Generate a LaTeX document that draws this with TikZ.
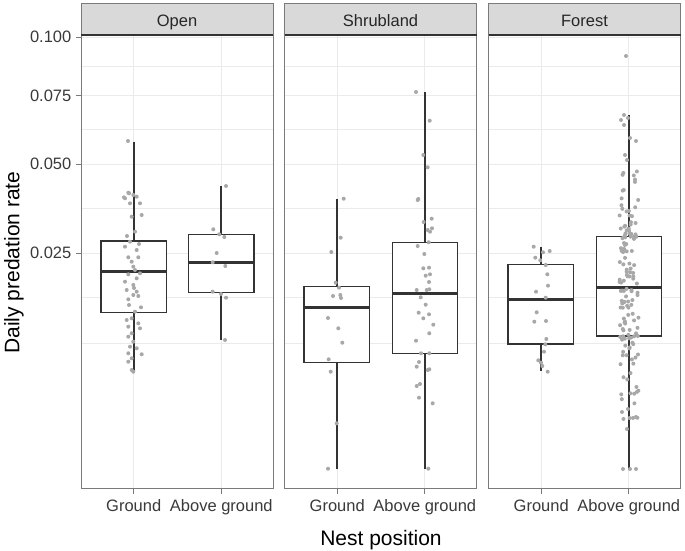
\documentclass[tikz,border=0pt]{standalone}
\usepackage{fontspec}
\setmainfont{Liberation Sans}
\usetikzlibrary{positioning}

\definecolor{stripfill}{HTML}{D9D9D9}
\definecolor{gridgray}{HTML}{EBEBEB}
\definecolor{framegray}{HTML}{7A7A7A}
\definecolor{boxgray}{HTML}{333333}
\definecolor{ptgray}{HTML}{A8A8A8}
\definecolor{tickgray}{HTML}{3A3A3A}

% one box: x, top whisker, upper hinge, median, lower hinge, bottom whisker
\newcommand{\nestbox}[6]{%
  \draw[whisk] (#1,#2) -- (#1,#3);
  \draw[whisk] (#1,#5) -- (#1,#6);
  \draw[boxln] (#1-32.7,#3) rectangle (#1+32.7,#5);
  \draw[medln] (#1-32.7,#4) -- (#1+32.7,#4);
}

\begin{document}
\begin{tikzpicture}[x=1pt, y=-1pt,
    grid/.style={gridgray, line width=0.9pt},
    frame/.style={framegray, line width=0.9pt},
    whisk/.style={boxgray, line width=1.8pt},
    boxln/.style={boxgray, line width=1.5pt, fill=white},
    medln/.style={boxgray, line width=3pt},
    pt/.style={ptgray},
    striptext/.style={anchor=base, text=black!85, font=\fontsize{16.5}{18}\selectfont},
    ticklab/.style={text=tickgray, font=\fontsize{16.5}{18}\selectfont},
    axtitle/.style={anchor=base, text=black, font=\fontsize{21}{24}\selectfont}
]
\useasboundingbox[fill=white] (0,0) rectangle (685,551);

\foreach \L/\lab in {81/Open, 284.5/Shrubland, 488.5/Forest}{
  \foreach \gy in {37.3,66.5,95.7,129.8,164,208.7,253.3,297.7,343.3}
    \draw[grid] (\L,\gy) -- (\L+192,\gy);
  \draw[grid] (\L+52.7,35) -- (\L+52.7,488.3);
  \draw[grid] (\L+140.3,35) -- (\L+140.3,488.3);
  \draw[frame] (\L,35) rectangle (\L+192,488.3);
  \draw[frame, fill=stripfill] (\L,3.3) rectangle (\L+192,35);
  \draw[boxgray, line width=1.4pt] (\L,35) -- (\L+192,35);
  \node[striptext] (strip\lab) at (\L+96,26.7) {\lab};
  \draw[frame] (\L+52.7,488.3) -- (\L+52.7,493.5);
  \draw[frame] (\L+140.3,488.3) -- (\L+140.3,493.5);
  \node[ticklab, anchor=base] (ground\lab) at (\L+52.7,511.7) {Ground};
  \node[ticklab, anchor=base] (above\lab) at (\L+140.3,511.7) {Above ground};
}

\foreach \v/\yy [count=\k] in {0.100/37.3, 0.075/95.7, 0.050/164, 0.025/253.3}{
  \draw[frame] (75.5,\yy) -- (81,\yy);
  \node[ticklab, anchor=east, inner sep=0pt] (ylab\k) at (71.5,\yy) {\v};
}

\node[axtitle] (xtitle) at (381,545) {Nest position};
\node[axtitle, rotate=90] (ytitle) at (19.5,262.5) {Daily predation rate};

\nestbox{133.7}{141.7}{241}{271}{312.7}{373.3}
\nestbox{221.3}{186}{234.3}{262.3}{292.3}{340}
\nestbox{336.7}{199.3}{286.7}{307.7}{362.3}{469}
\nestbox{425}{92}{242.3}{293.3}{353.3}{469}
\nestbox{540.7}{246.7}{264.3}{299}{344}{371}
\nestbox{629}{115}{236.7}{287.7}{336}{469}

% Open
\foreach \px/\py in {128/141,128.3/192.7,136.7/196.7,124/197.3,129/193.3,133.3/195,125/198.3,
    140/203.3,130/203.3,141.7/215,131.7/216.7,135/231.7,130/241.7,125/246.7,136.7/250,
    128.3/257.3,138.3/257.3,131.7/261.7,133.3/266.7,135/270,140/273.3,128.3/274.3,
    136.7/278.3,125/281.7,133.3/285,126.7/290,136.7/291.7,133.3/295,138.3/296,128.3/299.3,
    141/307.3,135/311.7,126.7/320,131.7/318.3,138.3/323.3,128.3/326.7,140/328.3,
    131.7/333.3,128.3/336.7,133.3/341.7,130/346.7,136.7/348.3,128.3/353.3,141.7/354.3,
    131.7/358.3,128.3/361.7,133.3/371.7,131.7/370,127/236,139/244,134/288,129/305}
  \fill[pt] (\px,\py) circle (2pt);
\foreach \px/\py in {226/186,213.3/229.3,219.3/234.3,224.3/237,216.7/253,212.7/262.3,
    225.3/266,212.7/291.7,221/294,226/297.7,225/340}
  \fill[pt] (\px,\py) circle (2pt);

% Shrubland
\foreach \px/\py in {343.7/198.7,340.7/237.7,331.3/252,335.7/282.7,339/287.7,333/296,
    340.3/295,341/298,328/318,338.3/328.3,342.3/342.7,328.7/359.3,330.7/371.7,
    336.7/423.3,328/468.7}
  \fill[pt] (\px,\py) circle (2pt);
\foreach \px/\py in {416/92,429.7/120.7,423.3/155,427.7/167.3,418.3/199,417.7/200,
    423.7/222,431.7/218.7,427.7/230,430/231.7,432/228.3,417.7/246,428.7/242.3,424.3/254,
    423.3/268.3,429/267.7,425.7/275.7,430/274.3,429/282,416.7/290,420.7/297.3,426.7/290,
    429.3/289.3,425.7/304.7,418.7/312.7,429/314.3,423.3/318.3,433.3/324.7,429.3/333.3,
    416/340.7,421/353.3,429.3/353.3,419/362,416.7/366.7,429.3/369.3,427.7/370,
    416.7/386,420/384,419/397.7,432.7/403.3,428.3/468.7}
  \fill[pt] (\px,\py) circle (2pt);

% Forest
\foreach \px/\py in {533.7/246.7,543/252.3,549.7/251,535.3/257.7,540.3/260.3,545.7/265,
    547.3/274.3,548/285.7,536/291.7,545.7/297.7,536.7/312.3,534.3/321.7,546/321,
    546.3/339,545.3/344.3,544/351.7,538.3/360.3,541/362.7,542.3/366,547.7/371.7}
  \fill[pt] (\px,\py) circle (2pt);
\foreach \px/\py in {626/56,624/115,621/120,628/118,624/125,630/138,636/141,625/155,
    627/160,623/469,630/469,636/469,622/412,636/417,628/409,633/418,627/429}
  \fill[pt] (\px,\py) circle (2pt);
\pgfmathsetseed{42}
\foreach \i in {1,...,140}{
  \pgfmathsetmacro{\u}{min(4,max(0,4*(\i-0.5)/140+0.15*rand))}
  \pgfmathsetmacro{\py}{\u<1 ? 336+92*(1-\u)^2 : (\u<2 ? 336+(287.7-336)*(\u-1) : (\u<3 ? 287.7+(236.7-287.7)*(\u-2) : 236.7-70*(\u-3)^2))}
  \pgfmathsetmacro{\px}{629+9.5*rand}
  \fill[pt] (\px,\py) circle (2pt);
}
\end{tikzpicture}
\end{document}
